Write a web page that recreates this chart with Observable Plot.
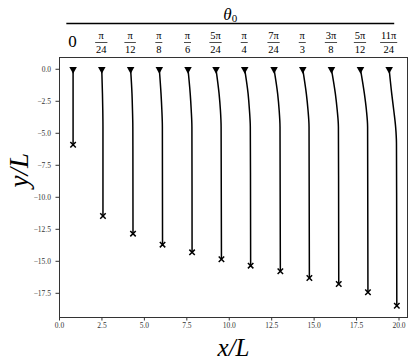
<!DOCTYPE html>
<html><head><meta charset="utf-8">
<script src="https://cdn.jsdelivr.net/npm/d3@7"></script>
<script src="https://cdn.jsdelivr.net/npm/@observablehq/plot@0.6"></script>
<style>
html,body{margin:0;padding:0;background:#fff;}
</style>
</head><body><div id="chart"></div>
<script>
// θ0 labels (numerator, denominator)
const thetaNum = ["0","π","π","π","π","5π","π","7π","π","3π","5π","11π"];
const thetaDen = ["","24","12","8","6","24","4","24","3","8","12","24"];

// Trajectories (x/L, y/L), one list per θ0
const curveX = [
  [0.80, 0.80],
  [2.49, 2.53, 2.55, 2.56, 2.56],
  [4.19, 4.27, 4.30, 4.32, 4.33],
  [5.88, 5.98, 6.03, 6.06, 6.07],
  [7.57, 7.70, 7.76, 7.80, 7.81],
  [9.22, 9.40, 9.48, 9.52, 9.54],
  [10.91, 11.11, 11.19, 11.24, 11.26],
  [12.64, 12.85, 12.94, 12.99, 13.01],
  [14.33, 14.54, 14.64, 14.70, 14.72],
  [16.02, 16.25, 16.36, 16.43, 16.45],
  [17.73, 17.96, 18.08, 18.15, 18.17],
  [19.42, 19.57, 19.69, 19.80, 19.85, 19.87]
];
const curveY = [
  [0, -5.90],
  [0, -1.9, -3.2, -4.5, -11.46],
  [0, -1.9, -3.2, -4.5, -12.84],
  [0, -1.9, -3.2, -4.5, -13.70],
  [0, -1.9, -3.2, -4.5, -14.30],
  [0, -1.9, -3.2, -4.5, -14.84],
  [0, -1.9, -3.2, -4.5, -15.34],
  [0, -1.9, -3.2, -4.5, -15.78],
  [0, -1.9, -3.2, -4.5, -16.30],
  [0, -1.9, -3.2, -4.5, -16.77],
  [0, -1.9, -3.2, -4.5, -17.42],
  [0, -1.9, -3.2, -4.5, -5.8, -18.47]
];

const xTicks = [0, 2.5, 5, 7.5, 10, 12.5, 15, 17.5, 20];
const yTicks = [0, -2.5, -5, -7.5, -10, -12.5, -15, -17.5];

const serif = "'Liberation Serif', 'DejaVu Serif', serif";

const pts = [];
curveX.forEach((xs, k) => xs.forEach((x, i) => pts.push({k, x, y: curveY[k][i]})));
const starts = curveX.map((xs, k) => ({k, x: xs[0], y: curveY[k][0]}));
const ends = curveX.map((xs, k) => ({k, x: xs[xs.length - 1], y: curveY[k][curveY[k].length - 1]}));

const fmt = d => d.toFixed(1).replace("-", "\u2212");

const plot = Plot.plot({
  width: 415,
  height: 364,
  marginTop: 57,
  marginBottom: 47,
  marginLeft: 59,
  marginRight: 8,
  style: {fontFamily: serif, background: "#fff", color: "#000"},
  x: {domain: [0, 20.5]},
  y: {domain: [-19.39, 0.92]},
  marks: [
    Plot.frame({stroke: "#333", strokeWidth: 1}),
    Plot.axisX({ticks: xTicks, tickFormat: fmt, tickSize: 3.5, tickPadding: 2, fontSize: 7.5, label: null, stroke: "#333", fill: "#333"}),
    Plot.axisY({ticks: yTicks, tickFormat: fmt, tickSize: 3.5, tickPadding: 5, fontSize: 7.5, label: null, stroke: "#333", fill: "#333"}),
    Plot.line(pts, {x: "x", y: "y", z: "k", curve: "monotone-y", stroke: "#000", strokeWidth: 1.5}),
    Plot.dot(starts, {x: "x", y: "y", symbol: "triangle", rotate: 180, r: 2.8, fill: "#000", stroke: "none"}),
    Plot.dot(ends, {x: "x", y: "y", symbol: "times", r: 2.6, stroke: "#000", strokeWidth: 1.5}),
    Plot.text(["x/L"], {text: d => d, frameAnchor: "bottom", dy: 38, fontSize: 25, fontStyle: "italic", fontFamily: serif, fill: "#000"}),
    Plot.text(["y/L"], {text: d => d, frameAnchor: "left", dx: -40, rotate: -90, fontSize: 27, fontStyle: "italic", fontFamily: serif, fill: "#000"})
  ]
});
document.getElementById("chart").appendChild(plot);

// Header: θ0 labels aligned to each curve's starting x, via the plot's x scale
const sx = plot.scale("x");
const svg = d3.select(plot);
const g = svg.append("g").attr("font-family", serif).attr("fill", "#000");
let left = Infinity, right = -Infinity;
thetaNum.forEach((num, k) => {
  const cx = sx.apply(curveX[k][0]);
  const den = thetaDen[k];
  if (!den) {
    const t = g.append("text").attr("x", cx).attr("y", 41).attr("text-anchor", "middle")
      .attr("dominant-baseline", "central").attr("font-size", 17).text(num);
    const b = t.node().getBBox();
    left = Math.min(left, b.x); right = Math.max(right, b.x + b.width);
  } else {
    const tn = g.append("text").attr("x", cx).attr("y", 39).attr("text-anchor", "middle")
      .attr("font-size", 10.5).text(num);
    const td = g.append("text").attr("x", cx).attr("y", 53).attr("text-anchor", "middle")
      .attr("font-size", 10.5).text(den);
    const w = Math.max(tn.node().getBBox().width, td.node().getBBox().width) + 1;
    g.append("line").attr("x1", cx - w / 2).attr("x2", cx + w / 2).attr("y1", 42.5).attr("y2", 42.5)
      .attr("stroke", "#000").attr("stroke-width", 0.7);
    left = Math.min(left, cx - w / 2); right = Math.max(right, cx + w / 2);
  }
});
const lx1 = left - 2, lx2 = right - 3;
g.append("line").attr("x1", lx1).attr("x2", lx2).attr("y1", 23.5).attr("y2", 23.5)
  .attr("stroke", "#000").attr("stroke-width", 1.3);
const tt = g.append("text").attr("x", (lx1 + lx2) / 2).attr("y", 20).attr("text-anchor", "middle").attr("font-size", 17);
tt.append("tspan").attr("font-style", "italic").text("θ");
tt.append("tspan").attr("font-size", 11).attr("dy", 2).text("0");
</script>
</body></html>
